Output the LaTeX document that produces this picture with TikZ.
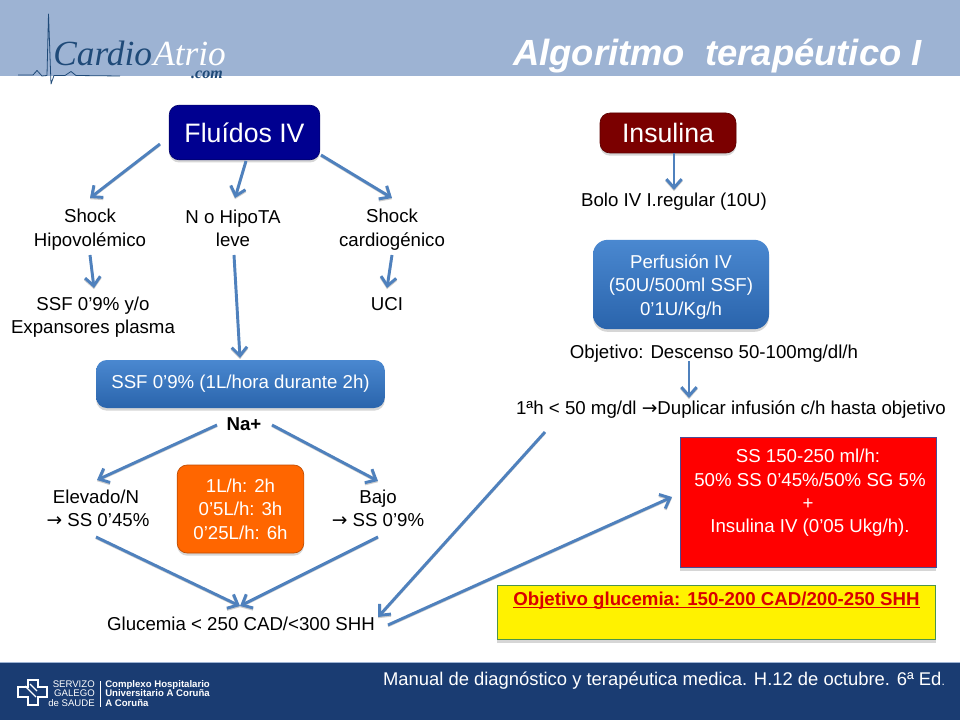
\documentclass[tikz,border=0pt]{standalone}
\usepackage{fontspec}
\setmainfont{Liberation Sans}
\newfontfamily\arrowfont{DejaVu Sans}
\newfontfamily\logofont{Liberation Serif}
\usetikzlibrary{arrows.meta,calc,shadows}
\definecolor{headblue}{HTML}{9DB3D3}
\definecolor{footblue}{HTML}{1A3C72}
\definecolor{lineblue}{HTML}{4F81BD}
\definecolor{navybox}{HTML}{000090}
\definecolor{darkredbox}{HTML}{7B0000}
\definecolor{logoblue}{HTML}{1F4A78}
\definecolor{orangebox}{HTML}{FF6600}
\definecolor{blueTop}{HTML}{4A88D0}
\definecolor{blueBot}{HTML}{2A64AC}
\newcommand{\rarr}{{\arrowfont\fontsize{14}{17}\selectfont →}}
\tikzset{
  lbl/.style={font=\fontsize{14}{17.6}\selectfont,align=center,inner sep=0pt,text=black},
  softshadow/.style={general shadow={fill=black!35,opacity=.45,shadow xshift=0pt,shadow yshift=-2pt}},
  rbox/.style={rounded corners=7.5pt,draw=black!25!#1,line width=.5pt,fill=#1,softshadow,text=white,align=center,inner sep=0pt,font=\fontsize{14}{17.6}\selectfont},
  gradbox/.style={rounded corners=8pt,draw=none,top color=blueTop,bottom color=blueBot,softshadow,text=white,align=center,inner sep=0pt,font=\fontsize{14}{17.6}\selectfont},
  arr/.style={draw=lineblue,line width=2.2pt,-{Straight Barb[length=6.5pt,width=11.5pt,line width=2.2pt]},preaction={draw=black!20,line width=1.5pt,transform canvas={yshift=-.9pt}}},
}
\begin{document}
\begin{tikzpicture}[x=.75pt,y=-.75pt]
\useasboundingbox (0,0) rectangle (960,720);
\fill[white] (0,0) rectangle (960,720);
% header and footer bands
\fill[headblue] (0,0) rectangle (960,76);
\fill[footblue] (0,662) rectangle (960,720);
\fill[headblue] (0,661.5) rectangle (960,663);
% logo
\draw[logoblue,line width=.6pt,line join=round] (18,75)--(33,75)--(37,70.5)--(42,76)--(47,75.5)--(48.5,14)--(51,84)--(54,75.5)--(65,75.5)--(71,71.5)--(76,75.5)--(120,76);
\node[anchor=base west,inner sep=0pt,font=\logofont\itshape\fontsize{26.5}{30}\selectfont,text=logoblue] (logoa) at (53,66) {Cardio};
\node[anchor=base west,inner sep=0pt,font=\logofont\itshape\fontsize{26.5}{30}\selectfont,text=white] (logob) at (153,66) {Atrio};
\node[anchor=base,inner sep=0pt,font=\logofont\itshape\bfseries\fontsize{12}{12}\selectfont,text=logoblue] (logoc) at (207,79) {.com};
% title
\node[anchor=base,inner sep=0pt,text=white,font=\bfseries\itshape\fontsize{27.3}{30}\selectfont] (title) at (717.5,66) {Algoritmo\ \ terapéutico I};
% left column
\node[rbox=navybox,minimum width=113pt,minimum height=41pt,font=\fontsize{20}{24}\selectfont] (fl) at (244.5,132.5) {Fluídos IV};
\node[lbl] (hipo) at (90,229.5) {Shock\\Hipovolémico};
\node[lbl] (napo) at (233,228.5) {N o HipoTA\\leve};
\node[lbl] (card) at (392,229.5) {Shock\\cardiogénico};
\node[lbl] (ssfo) at (93,317) {SSF 0’9\% y/o\\Expansores plasma};
\node[lbl] (uci) at (387,304) {UCI};
\node[gradbox,minimum width=216.5pt,minimum height=36pt] (ssf) at (240.5,384) {\raisebox{-1.5pt}{SSF 0’9\% (1L/hora durante 2h)}};
\node[lbl,font=\bfseries\fontsize{14}{17.6}\selectfont] (na) at (244,424) {Na+};
\node[lbl] (elev) at (98,508.5) {Elevado/N\hspace*{3pt}\\\rarr\ SS 0’45\%};
\node[lbl] (bajo) at (378,508.5) {Bajo\\\rarr\ SS 0’9\%};
\node[rbox=orangebox,minimum width=95pt,minimum height=66pt] (ord) at (240.5,509) {1L/h: 2h\\0’5L/h: 3h\\0’25L/h: 6h};
\node[lbl] (gluc) at (241,624) {Glucemia < 250 CAD/<300 SHH};
% right column
\node[rbox=darkredbox,minimum width=102pt,minimum height=30pt,font=\fontsize{20}{24}\selectfont] (ins) at (668,133) {Insulina};
\node[lbl] (bolo) at (674,201.5) {Bolo IV I.regular (10U)};
\node[gradbox,minimum width=132pt,minimum height=67pt,rounded corners=11pt] (perf) at (681,284.5) {\rule{0pt}{14pt}Perfusión IV\\(50U/500ml SSF)\\0’1U/Kg/h};
\node[lbl] (obj) at (714,353.5) {Objetivo: Descenso 50-100mg/dl/h};
\node[lbl] (dup) at (731,410) {1ªh < 50 mg/dl \rarr Duplicar infusión c/h hasta objetivo};
\node[draw=black!30!blue!40!gray,line width=.6pt,fill=red,softshadow,minimum width=192pt,minimum height=98pt,inner sep=0pt,text=white,align=center,font=\fontsize{14}{17.4}\selectfont] (red) at (808,502.5) {SS 150-250 ml/h:\\\hspace*{3pt}50\% SS 0’45\%/50\% SG 5\%\\+\\\hspace*{3pt}Insulina IV (0’05 Ukg/h).\\~};
\node[draw=black!30!green!40!gray,line width=.6pt,fill=yellow,softshadow,minimum width=329pt,minimum height=41pt,inner sep=0pt,text=red!85!black,align=center,font=\bfseries\fontsize{14}{20}\selectfont] (yel) at (716.5,612.5) {\rule{0pt}{12pt}\underline{\smash{Objetivo glucemia: 150-200 CAD/200-250 SHH}}\\[3pt]~};
% connectors
\draw[arr] ($(fl)+(-84.5,11.5)$) -- ($(hipo)+(0,-31.5)$);
\draw[arr] ($(fl)+(1.5,28.5)$) -- ($(napo)+(2,-30.5)$);
\draw[arr] ($(fl)+(76.5,22.5)$) -- ($(card)+(0,-31.5)$);
\draw[arr] ($(ins)+(6,20)$) -- ($(bolo)+(0,-11.5)$);
\draw[arr] ($(hipo)+(0,25.5)$) -- ($(ssfo)+(1,-29)$);
\draw[arr] ($(card)+(0,25.5)$) -- ($(uci)+(0,-16)$);
\draw[arr] ($(napo)+(1,26.5)$) -- ($(ssf)+(-.5,-26)$);
\draw[arr] ($(obj)+(-25,7.5)$) -- ($(dup)+(-42,-12)$);
\draw[arr] ($(na)+(-27,1)$) -- ($(elev)+(-1,-28.5)$);
\draw[arr] ($(na)+(28,1)$) -- ($(bajo)+(0,-27.5)$);
\draw[arr] ($(elev)+(-2,28.5)$) -- ($(gluc)+(-1,-18)$);
\draw[arr] ($(bajo)+(0,28.5)$) -- ($(gluc)+(-1,-18)$);
\draw[arr] ($(dup)+(-186,22)$) -- ($(gluc)+(137,-7)$);
\draw[arr] ($(gluc)+(147,1)$) -- ($(red)+(-136,-5.5)$);
% footer
\node[anchor=base,inner sep=0pt,text=white,font=\fontsize{13.8}{16}\selectfont] (ref) at (664,685) {Manual de diagnóstico y terapéutica medica. H.12 de octubre. 6ª Ed{\fontsize{9}{10}\selectfont .}};
\draw[white,line width=1.1pt,line join=miter] (28,680)--(38,680)--(38,687)--(47,687)--(47,697)--(38,697)--(38,705)--(28,705)--(28,697)--(18,697)--(18,687)--(28,687)--cycle;
\draw[white,line width=.9pt] (25,686)--(36,697) (30,684)--(37,691);
\node[anchor=east,inner sep=0pt,text=white,align=right,font=\fontsize{7.2}{7.2}\selectfont] (sgs) at (95,693.5) {SERVIZO\\GALEGO\\de SAUDE};
\fill[white] (99.5,681) rectangle (100.5,707);
\node[anchor=west,inner sep=0pt,text=white,align=left,font=\bfseries\fontsize{7.2}{7.2}\selectfont] (chu) at (105,693.5) {Complexo Hospitalario\\Universitario A Coruña\\A Coruña};
\end{tikzpicture}
\end{document}
